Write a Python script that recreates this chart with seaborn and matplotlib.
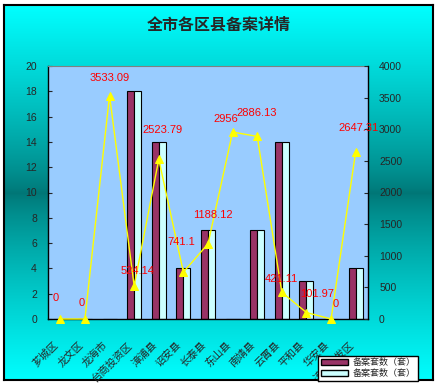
import numpy as np
import pandas as pd
import matplotlib
matplotlib.use('Agg')
import matplotlib.pyplot as plt
import seaborn as sns
from matplotlib.patches import Patch

categories = ['芗城区', '龙文区', '龙海市', '台商投资区', '漳浦县', '诏安县', '长泰县',
              '东山县', '南靖县', '云霄县', '平和县', '华安县', '漳州开发区']
series_a = [0, 0, 0, 18, 14, 4, 7, 0, 7, 14, 3, 0, 4]
series_b = [0, 0, 0, 18, 14, 4, 7, 0, 7, 14, 3, 0, 4]
line_vals = [0, 0, 3533.09, 524.14, 2523.79, 741.1, 1188.12, 2956, 2886.13,
             421.11, 101.97, 0, 2647.31]
line_labels = ['0', '0', '3533.09', '524.14', '2523.79', '741.1', '1188.12', '2956',
               '2886.13', '421.11', '101.97', '0', '2647.31']
# label offsets (pixels) relative to each point
label_dx = [-5, -3, 0, 3, 4, -2, 5, -7, -1, 0, 11, 5, 3]
label_dy = [21, 16, 18, 15, 29, 30, 29, 13, 23, 13, 19, 15, 24]
legend_labels = ['备案套数（套）', '备案套数（套）']
title = '全市各区县备案详情'
left_ticks = list(range(0, 21, 2))
right_ticks = list(range(0, 4001, 500))

sns.set_style('white')
plt.rcParams['font.family'] = ['Liberation Sans', 'Noto Sans CJK SC']

W, H = 438, 385
fig = plt.figure(figsize=(W / 100, H / 100), dpi=100)
fig.patch.set_facecolor('white')

# gradient background with black frame
bg = fig.add_axes([4 / W, 5 / H, 429 / W, 375 / H], zorder=-10)
ys = np.linspace(0, 1, 300)
py = 5 + ys * 375  # pixel from bottom
t = np.clip(np.abs(py - 192) / 188, 0, 1)
t = t ** 0.8
teal = np.array([0, 118, 118]) / 255
cyan = np.array([0, 255, 255]) / 255
cols = teal[None, :] + (cyan - teal)[None, :] * t[:, None]
img = np.repeat(cols[:, None, :], 2, axis=1)
bg.imshow(img, aspect='auto', extent=[0, 1, 0, 1], origin='lower')
bg.set_xticks([]); bg.set_yticks([])
for s in bg.spines.values():
    s.set_color('black'); s.set_linewidth(1.5)

ax = fig.add_axes([48 / W, 66 / H, 320 / W, 253 / H])
ax.set_facecolor('#99CCFF')

df = pd.DataFrame({
    'cat': categories * 2,
    'val': series_a + series_b,
    'ser': ['a'] * len(categories) + ['b'] * len(categories),
})
sns.barplot(data=df, x='cat', y='val', hue='ser', palette=['#993366', '#CCFFFF'],
            width=0.57, edgecolor='black', linewidth=0.8, ax=ax, legend=False,
            saturation=1)
ax.set_xlim(-0.5, len(categories) - 0.5)
ax.set_ylim(0, 20)
ax.set_yticks(left_ticks)
ax.set_xlabel(''); ax.set_ylabel('')
ax.set_xticks(range(len(categories)))
ax.set_xticklabels(categories, rotation=45, ha='right', va='top',
                   rotation_mode='default', fontsize=7.5)
ax.set_xticks(np.arange(len(categories) + 1) - 0.5, minor=True)
ax.tick_params(axis='x', which='major', length=0, pad=15)
ax.tick_params(axis='x', which='minor', length=3, direction='in', color='black')
ax.tick_params(axis='y', length=3, direction='in', labelsize=7.5, pad=8)
ax.spines['top'].set_color('#808080')
ax.spines['right'].set_visible(False)
for s in ['left', 'bottom']:
    ax.spines[s].set_color('black'); ax.spines[s].set_linewidth(1)

ax2 = ax.twinx()
sns.lineplot(x=np.arange(len(categories)), y=line_vals, ax=ax2, color='yellow',
             marker='^', markersize=5.5, markeredgecolor='#FFFF00', linewidth=1,
             clip_on=False)
ax2.set_ylim(0, 4000)
ax2.set_yticks(right_ticks)
ax2.set_ylabel('')
ax2.tick_params(axis='y', length=3, direction='in', labelsize=7.5, pad=8)
for s in ['left', 'bottom', 'top']:
    ax2.spines[s].set_visible(False)
ax2.spines['right'].set_color('black'); ax2.spines['right'].set_linewidth(1)

for i, (v, lab) in enumerate(zip(line_vals, line_labels)):
    ax2.annotate(lab, (i, v), xytext=(label_dx[i], label_dy[i]),
                 textcoords='offset pixels', ha='center', va='center',
                 color='#FF0000', fontsize=8, annotation_clip=False)

fig.text(0.5, 1 - 25 / H, title, ha='center', va='center', fontsize=11.5,
         fontweight='bold')

handles = [Patch(facecolor='#993366', edgecolor='black'),
           Patch(facecolor='#CCFFFF', edgecolor='black')]
leg = fig.legend(handles=handles, labels=legend_labels, loc='lower left',
                 bbox_to_anchor=(318 / W, 4 / H), fancybox=False, framealpha=1,
                 edgecolor='black', fontsize=6.5, handlelength=3.0,
                 handleheight=0.7, borderpad=0.3, labelspacing=0.2,
                 handletextpad=0.5, borderaxespad=0)
leg.get_frame().set_linewidth(1)

fig.savefig('out.png', dpi=100)
